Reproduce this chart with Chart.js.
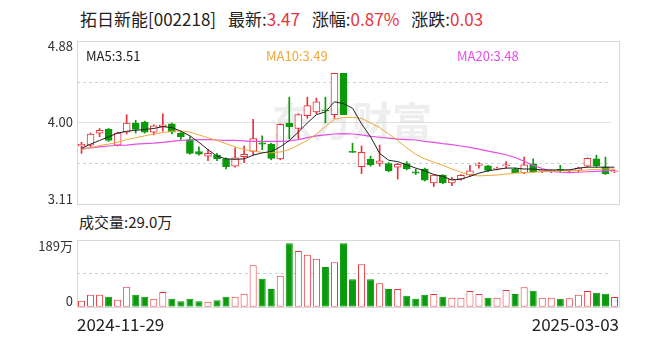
<!DOCTYPE html>
<html>
<head>
<meta charset="utf-8">
<script src="https://cdn.jsdelivr.net/npm/chart.js@4.4.1/dist/chart.umd.min.js"></script>
<style>
body{margin:0;background:#fff;width:654px;height:342px;overflow:hidden;position:relative;font-family:"Noto Sans CJK SC","Microsoft YaHei",sans-serif;}
#title{position:absolute;left:80px;top:7px;font-size:17px;line-height:24px;color:#222;white-space:nowrap;}
#title .r{color:#e8333c}
#title .g{margin-left:12px}
#volTitle{position:absolute;left:79px;top:211px;font-size:15px;line-height:22px;color:#222;white-space:nowrap;}
canvas{position:absolute;left:0}
#kline{top:0}
#vol{top:230px}
</style>
</head>
<body>
<div id="title"></div>
<div id="volTitle"></div>
<canvas id="kline" width="654" height="210"></canvas>
<canvas id="vol" width="654" height="112"></canvas>
<script>
var stockName = "拓日新能";
var stockCode = "002218";

var dates = ["2024-11-29",
  "2024-12-02","2024-12-03","2024-12-04","2024-12-05","2024-12-06","2024-12-09","2024-12-10","2024-12-11",
  "2024-12-12","2024-12-13","2024-12-16","2024-12-17","2024-12-18","2024-12-19","2024-12-20","2024-12-23",
  "2024-12-24","2024-12-25","2024-12-26","2024-12-27","2024-12-30","2024-12-31",
  "2025-01-02","2025-01-03","2025-01-06","2025-01-07","2025-01-08","2025-01-09","2025-01-10","2025-01-13",
  "2025-01-14","2025-01-15","2025-01-16","2025-01-17","2025-01-20","2025-01-21","2025-01-22","2025-01-23",
  "2025-01-24","2025-01-27",
  "2025-02-05","2025-02-06","2025-02-07","2025-02-10","2025-02-11","2025-02-12","2025-02-13","2025-02-14",
  "2025-02-17","2025-02-18","2025-02-19","2025-02-20","2025-02-21","2025-02-24","2025-02-25","2025-02-26",
  "2025-02-27","2025-02-28","2025-03-03"];

var opens  = [3.74,3.75,3.88,3.92,3.75,3.89,3.99,4.00,3.89,3.95,
              3.98,3.88,3.81,3.68,3.63,3.64,3.60,3.52,3.625,3.68,
              3.775,3.76,3.60,3.985,3.93,4.07,4.11,4.13,4.08,4.53,
              3.675,3.515,3.595,3.55,3.55,3.51,3.55,3.46,3.49,3.34,
              3.425,3.34,3.38,3.425,3.53,3.525,3.49,3.525,3.49,3.45,
              3.545,3.465,3.465,3.48,3.47,3.475,3.52,3.60,3.51,3.46];
var highs  = [3.78,3.88,3.93,3.93,3.89,4.08,4.02,4.01,3.97,4.09,
              3.99,3.89,3.84,3.73,3.70,3.66,3.61,3.72,3.74,4.03,
              3.85,3.77,3.98,4.27,4.09,4.27,4.26,4.27,4.53,4.53,
              3.77,3.74,3.63,3.75,3.56,3.55,3.57,3.49,3.50,3.43,
              3.43,3.40,3.43,3.53,3.56,3.53,3.51,3.57,3.50,3.62,
              3.60,3.48,3.48,3.53,3.48,3.51,3.61,3.64,3.62,3.48];
var lows   = [3.66,3.73,3.84,3.79,3.74,3.87,3.88,3.88,3.86,3.90,
              3.87,3.81,3.65,3.64,3.58,3.58,3.49,3.51,3.56,3.64,
              3.70,3.59,3.59,3.82,3.82,4.04,4.09,3.99,4.04,4.08,
              3.67,3.44,3.52,3.52,3.46,3.38,3.48,3.43,3.36,3.30,
              3.33,3.31,3.37,3.41,3.50,3.46,3.48,3.50,3.45,3.44,
              3.45,3.45,3.45,3.46,3.45,3.46,3.51,3.51,3.43,3.45];
var closes = [3.76,3.87,3.91,3.80,3.88,3.99,3.92,3.89,3.96,3.97,
              3.89,3.84,3.66,3.65,3.66,3.60,3.515,3.61,3.65,3.82,
              3.76,3.605,3.975,3.95,4.08,4.18,4.22,4.12,4.53,4.08,
              3.67,3.67,3.535,3.58,3.47,3.54,3.49,3.445,3.37,3.425,
              3.34,3.38,3.42,3.47,3.545,3.475,3.50,3.535,3.45,3.535,
              3.46,3.47,3.47,3.475,3.475,3.50,3.605,3.525,3.44,3.47];

// 成交量, 单位: 万
var volumes = [17.9,35.7,35.7,29.8,20.8,59.5,35.7,29.8,23.8,43.7,
               23.8,16.0,23.8,16.0,14.9,19.0,29.8,29.8,38.7,123,
               83.3,52.7,92.3,188.7,165.8,154.8,142.9,118,132,189,
               81.5,126,81.5,69.6,52.7,52.7,32.7,23.8,35.7,37.8,
               29.8,26.8,26.8,46.7,37.8,26.8,26.8,49.7,37.8,57.7,
               47.6,26.8,26.8,23.8,25,35.7,46.7,41.7,38.7,29.0];

var ma5  = [3.715,3.76,3.80,3.84,3.88,3.90,3.91,3.92,3.93,3.95,
            3.94,3.90,3.85,3.78,3.70,3.63,3.60,3.595,3.60,3.64,
            3.665,3.68,3.73,3.80,3.89,3.99,4.08,4.11,4.22,4.20,
            4.15,3.98,3.84,3.66,3.585,3.57,3.535,3.50,3.47,3.43,
            3.41,3.37,3.38,3.41,3.445,3.47,3.485,3.50,3.50,3.49,
            3.49,3.48,3.48,3.48,3.48,3.50,3.51,3.51,3.51,3.51];
var ma10 = [3.70,3.72,3.745,3.76,3.78,3.81,3.83,3.85,3.87,3.885,
            3.90,3.905,3.89,3.86,3.83,3.80,3.765,3.73,3.70,3.685,
            3.67,3.665,3.675,3.70,3.75,3.80,3.87,3.95,4.03,4.05,
            4.05,4.04,3.99,3.94,3.87,3.80,3.72,3.65,3.60,3.565,
            3.53,3.49,3.455,3.425,3.415,3.42,3.425,3.435,3.445,3.45,
            3.455,3.46,3.465,3.47,3.47,3.475,3.48,3.485,3.49,3.49];
var ma20 = [3.715,3.72,3.73,3.74,3.745,3.75,3.76,3.765,3.77,3.78,
            3.79,3.80,3.805,3.81,3.81,3.805,3.80,3.80,3.795,3.79,
            3.79,3.79,3.79,3.795,3.81,3.83,3.85,3.86,3.87,3.875,
            3.87,3.86,3.845,3.835,3.825,3.815,3.81,3.805,3.79,3.78,
            3.765,3.755,3.74,3.725,3.705,3.685,3.665,3.645,3.615,3.575,
            3.53,3.495,3.465,3.455,3.45,3.455,3.46,3.465,3.47,3.48];

var priceTicks = [4.88, 4.00, 3.11];
var volTickLabels = ["189万", "0"];

var RED = "#e8333c";
var GREEN = "#0b9a0b";

function isUp(i){ return closes[i] >= opens[i]; }

var n = closes.length;
var last = closes[n-1], prev = closes[n-2];
var chg = last - prev;
document.getElementById("title").innerHTML =
  stockName + "[" + stockCode + "]" +
  '<span class="g">最新:</span><span class="r">' + last.toFixed(2) + '</span>' +
  '<span class="g">涨幅:</span><span class="r">' + (chg/prev*100).toFixed(2) + '%</span>' +
  '<span class="g">涨跌:</span><span class="r">' + chg.toFixed(2) + '</span>';
document.getElementById("volTitle").innerHTML = "成交量:" + volumes[n-1].toFixed(1) + "万";

var bodies = [], wicks = [];
for (var i = 0; i < n; i++) {
  bodies.push([opens[i], closes[i]]);
  wicks.push([lows[i], highs[i]]);
}

function boxAndGrid(chart, lines){
  var ctx = chart.ctx, a = chart.chartArea;
  ctx.save();
  ctx.lineWidth = 1;
  lines.forEach(function(l){
    var y = Math.round(l.y) + 0.5;
    ctx.strokeStyle = l.color;
    ctx.setLineDash(l.dash || []);
    ctx.beginPath(); ctx.moveTo(a.left, y); ctx.lineTo(a.right - 8, y); ctx.stroke();
  });
  ctx.setLineDash([]);
  ctx.strokeStyle = "#d8d8d8";
  ctx.strokeRect(Math.round(a.left) + 0.5, Math.round(a.top) + 0.5, Math.round(a.right - a.left), Math.round(a.bottom - a.top));
  ctx.restore();
}

var klinePlugin = {
  id: "klineDeco",
  beforeDatasetsDraw: function(chart){
    var y = chart.scales.y, a = chart.chartArea, ctx = chart.ctx;
    var mid1 = (priceTicks[0] + priceTicks[1]) / 2, mid2 = (priceTicks[1] + priceTicks[2]) / 2;
    boxAndGrid(chart, [
      {y: y.getPixelForValue(priceTicks[1]), color: "#e2e2e2"},
      {y: y.getPixelForValue(mid1), color: "#cfcfcf", dash: [3, 3]},
      {y: y.getPixelForValue(mid2), color: "#cfcfcf", dash: [3, 3]}
    ]);
    // 水印
    ctx.save();
    ctx.font = "bold 40px 'Noto Sans CJK SC'";
    ctx.fillStyle = "rgba(200,200,200,0.3)";
    ctx.textAlign = "center"; ctx.textBaseline = "middle";
    ctx.fillText("东方财富", (a.left + a.right) / 2 + 4, (a.top + a.bottom) / 2 - 2);
    ctx.restore();
  },
  afterDraw: function(chart){
    var y = chart.scales.y, a = chart.chartArea, ctx = chart.ctx;
    ctx.save();
    ctx.font = "13px 'Noto Sans CJK SC'";
    ctx.fillStyle = "#333";
    ctx.textAlign = "right";
    priceTicks.forEach(function(t, k){
      ctx.textBaseline = k === 0 ? "top" : (k === priceTicks.length - 1 ? "bottom" : "middle");
      var py = y.getPixelForValue(t) + (k === 0 ? -1 : (k === priceTicks.length - 1 ? 2 : 0));
      ctx.fillText(t.toFixed(2), a.left - 4, py);
    });
    // MA图例
    ctx.textAlign = "left"; ctx.textBaseline = "middle";
    var items = [["MA5:", ma5, "#222"], ["MA10:", ma10, "#f0a93a"], ["MA20:", ma20, "#e64ee6"]];
    var xs = [a.left + 9, a.left + 189, a.left + 380];
    items.forEach(function(it, k){
      ctx.fillStyle = it[2];
      ctx.fillText(it[0] + it[1][n-1].toFixed(2), xs[k], a.top + 15);
    });
    ctx.restore();
  }
};

new Chart(document.getElementById("kline"), {
  type: "bar",
  data: {
    labels: dates,
    datasets: [
      {type: "line", data: ma5, borderColor: "#222", borderWidth: 1, pointRadius: 0, tension: 0, order: -3},
      {type: "line", data: ma10, borderColor: "#f0a93a", borderWidth: 1, pointRadius: 0, tension: 0, order: -2},
      {type: "line", data: ma20, borderColor: "#e64ee6", borderWidth: 1.2, pointRadius: 0, tension: 0, order: -1},
      {
        data: bodies, grouped: false, order: 0, barThickness: 7, minBarLength: 1,
        borderWidth: 1, borderSkipped: false,
        backgroundColor: function(c){ return isUp(c.dataIndex) ? "#fff" : GREEN; },
        borderColor: function(c){ return isUp(c.dataIndex) ? RED : GREEN; }
      },
      {
        data: wicks, grouped: false, order: 1, barThickness: 1, borderWidth: 0,
        backgroundColor: function(c){ return isUp(c.dataIndex) ? RED : GREEN; }
      }
    ]
  },
  options: {
    responsive: false, animation: false, devicePixelRatio: 1,
    layout: {padding: {left: 77, right: 35, top: 41, bottom: 6}},
    plugins: {legend: {display: false}, tooltip: {enabled: false}},
    scales: {
      x: {display: false},
      y: {display: false, min: priceTicks[2], max: priceTicks[0]}
    }
  },
  plugins: [klinePlugin]
});

var volPlugin = {
  id: "volDeco",
  beforeDatasetsDraw: function(chart){
    var a = chart.chartArea;
    boxAndGrid(chart, [{y: (a.top + a.bottom) / 2, color: "#cfcfcf", dash: [3, 3]}]);
  },
  afterDraw: function(chart){
    var a = chart.chartArea, ctx = chart.ctx;
    ctx.save();
    ctx.font = "13px 'Noto Sans CJK SC'";
    ctx.fillStyle = "#333";
    ctx.textAlign = "right";
    ctx.textBaseline = "top";
    ctx.fillText(volTickLabels[0], a.left - 4, a.top);
    ctx.textBaseline = "bottom";
    ctx.fillText(volTickLabels[1], a.left - 4, a.bottom + 1);
    ctx.font = "17px 'Noto Sans CJK SC'";
    ctx.fillStyle = "#222";
    ctx.textBaseline = "middle";
    ctx.textAlign = "left";
    ctx.fillText(dates[0], a.left, a.bottom + 18);
    ctx.textAlign = "right";
    ctx.fillText(dates[n-1], a.right, a.bottom + 18);
    ctx.restore();
  }
};

new Chart(document.getElementById("vol"), {
  type: "bar",
  data: {
    labels: dates,
    datasets: [{
      data: volumes, borderWidth: 1, borderSkipped: false,
      categoryPercentage: 1, barPercentage: 0.78,
      backgroundColor: function(c){ return isUp(c.dataIndex) ? "#fff" : GREEN; },
      borderColor: function(c){ return isUp(c.dataIndex) ? RED : GREEN; }
    }]
  },
  options: {
    responsive: false, animation: false, devicePixelRatio: 1,
    layout: {padding: {left: 77, right: 35, top: 9.5, bottom: 35.3}},
    plugins: {legend: {display: false}, tooltip: {enabled: false}},
    scales: {
      x: {display: false},
      y: {display: false, min: 0, max: 200}
    }
  },
  plugins: [volPlugin]
});
</script>
</body>
</html>
